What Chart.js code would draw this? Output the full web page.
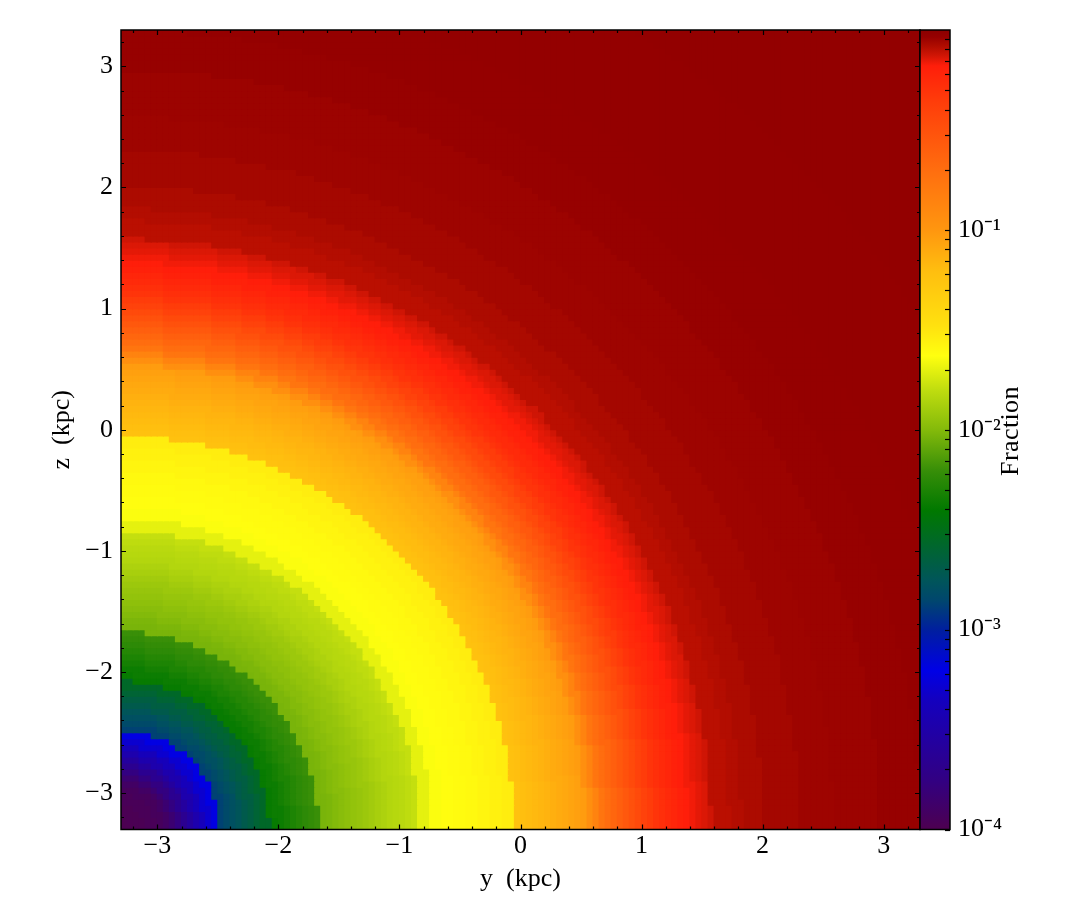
<!DOCTYPE html>
<html>
<head>
<meta charset="utf-8">
<style>
  html, body { margin: 0; background: #fff; }
  canvas { position: absolute; left: 0; top: 0; }
</style>
<script src="https://cdn.jsdelivr.net/npm/chart.js@4/dist/chart.umd.min.js"></script>
</head>
<body>
<canvas id="map" width="1085" height="920"></canvas>
<canvas id="bar" width="1085" height="920"></canvas>
<script>
// axis ticks
const majorTicks = [-3, -2, -1, 0, 1, 2, 3];
const minorTicks = [-3.2, -2.8, -2.6, -2.4, -2.2, -1.8, -1.6, -1.4, -1.2, -0.8, -0.6, -0.4, -0.2,
  0.2, 0.4, 0.6, 0.8, 1.2, 1.4, 1.6, 1.8, 2.2, 2.4, 2.6, 2.8, 3.2];
const axisMin = -3.3;
const axisMax = 3.3;
const cellSize = 0.05;

// colorbar ticks
const barDecades = [1e-4, 1e-3, 1e-2, 1e-1];
const barDecadeLabels = ['10⁻⁴', '10⁻³', '10⁻²', '10⁻¹'];
const barMinor = [2e-4, 3e-4, 4e-4, 5e-4, 6e-4, 7e-4, 8e-4, 9e-4,
  2e-3, 3e-3, 4e-3, 5e-3, 6e-3, 7e-3, 8e-3, 9e-3,
  2e-2, 3e-2, 4e-2, 5e-2, 6e-2, 7e-2, 8e-2, 9e-2,
  0.2, 0.3, 0.4, 0.5, 0.6, 0.7, 0.8, 0.9];

// colormap: log10(fraction) -> rgb
const stopLog = [-4, -3.755, -3.355, -3.205, -3.005, -2.855, -2.755, -2.405, -2.205, -2.005,
  -1.805, -1.63, -1.48, -1.205, -1, -0.705, -0.355, -0.18, -0.13, -0.08, -0.035, 0];
const stopRGB = [[77, 0, 80], [50, 0, 130], [20, 0, 190], [0, 0, 230], [0, 30, 160], [0, 70, 110],
  [0, 85, 90], [0, 120, 0], [55, 142, 8], [130, 185, 10], [190, 220, 15], [255, 255, 15],
  [255, 225, 15], [255, 190, 15], [255, 150, 15], [255, 110, 15], [255, 60, 10], [255, 30, 10],
  [210, 22, 5], [175, 12, 0], [150, 0, 0], [140, 0, 0]];

// the map is rings around the lower left corner: outer radius (kpc) and log10(fraction)
const ringOuter = [0.10, 0.20, 0.30, 0.36, 0.40, 0.45, 0.50, 0.55, 0.59, 0.64, 0.69, 0.75, 0.82,
  0.87, 0.92, 0.97, 1.01, 1.06, 1.11, 1.17, 1.23,
  1.28, 1.34, 1.39, 1.44, 1.49, 1.54, 1.59, 1.64,
  1.70, 1.75, 1.80, 1.86, 1.91, 1.96, 2.01, 2.06, 2.11, 2.16, 2.21, 2.27, 2.32, 2.37, 2.42, 2.47,
  2.57, 2.67, 2.76, 2.86, 2.96, 3.06, 3.16, 3.25,
  3.30, 3.35, 3.40, 3.45, 3.50, 3.55, 3.60, 3.65, 3.70, 3.75, 3.80, 3.84, 3.89, 3.94,
  3.99, 4.04, 4.09, 4.14, 4.19, 4.24, 4.29, 4.34, 4.39, 4.44, 4.49, 4.54, 4.59, 4.64, 4.69, 4.74, 4.79, 4.84, 4.88,
  5.03, 5.13, 5.31, 5.61, 5.89, 6.27, 6.60, 7.00, 7.84, 9.40];
const ringLog = [-3.99, -3.98, -3.96, -3.94, -3.90, -3.84, -3.76, -3.66, -3.57, -3.47, -3.38, -3.29, -3.22,
  -2.87, -2.83, -2.79, -2.75, -2.70, -2.66, -2.61, -2.56,
  -2.38, -2.36, -2.33, -2.30, -2.27, -2.24, -2.22, -2.20,
  -2.03, -2.02, -2.00, -1.98, -1.965, -1.95, -1.935, -1.92, -1.90, -1.88, -1.86, -1.84, -1.83, -1.82, -1.805, -1.79,
  -1.70, -1.64, -1.62, -1.61, -1.60, -1.58, -1.56, -1.54,
  -1.23, -1.21, -1.195, -1.18, -1.165, -1.15, -1.13, -1.11, -1.09, -1.07, -1.05, -1.03, -0.95, -0.86,
  -0.76, -0.70, -0.65, -0.60, -0.55, -0.50, -0.45, -0.40, -0.355, -0.31, -0.28, -0.25, -0.225, -0.20, -0.18, -0.165, -0.15, -0.14, -0.125,
  -0.095, -0.085, -0.075, -0.06, -0.05, -0.045, -0.037, -0.032, -0.028, -0.025];

const fontFamily = '"Liberation Serif", serif';
Chart.defaults.font.family = fontFamily;
Chart.defaults.color = '#000';

const colorForLog = (v) => {
  let i = 0;
  while (i < stopLog.length - 2 && v > stopLog[i + 1]) i++;
  const t = Math.min(1, Math.max(0, (v - stopLog[i]) / (stopLog[i + 1] - stopLog[i])));
  const c = stopRGB[i].map((a, k) => Math.round(a + (stopRGB[i + 1][k] - a) * t));
  return `rgb(${c[0]},${c[1]},${c[2]})`;
};

const ringLogAt = (r) => {
  const i = ringOuter.findIndex(o => r <= o);
  return ringLog[i < 0 ? ringLog.length - 1 : i];
};

// one square per grid cell
const cells = [];
const cellColors = [];
const cellCount = Math.round((axisMax - axisMin) / cellSize);
for (let j = 0; j < cellCount; j++) {
  for (let i = 0; i < cellCount; i++) {
    const dx = (i + 0.5) * cellSize;
    const dy = (j + 0.5) * cellSize;
    cells.push({ x: axisMin + dx, y: axisMin + dy });
    cellColors.push(colorForLog(ringLogAt(Math.hypot(dx, dy))));
  }
}

// inward ticks on all four sides plus the frame
const frameTicks = {
  id: 'frameTicks',
  afterDraw(chart) {
    const { ctx, chartArea: a, scales } = chart;
    ctx.save();
    ctx.strokeStyle = '#000';
    ctx.lineWidth = 1.2;
    const tick = (v, len) => {
      const px = Math.round(scales.x.getPixelForValue(v)) + 0.5;
      const py = Math.round(scales.y.getPixelForValue(v)) + 0.5;
      ctx.beginPath();
      ctx.moveTo(px, a.bottom); ctx.lineTo(px, a.bottom - len);
      ctx.moveTo(px, a.top); ctx.lineTo(px, a.top + len);
      ctx.moveTo(a.left, py); ctx.lineTo(a.left + len, py);
      ctx.moveTo(a.right, py); ctx.lineTo(a.right - len, py);
      ctx.stroke();
    };
    majorTicks.forEach(v => tick(v, 5));
    minorTicks.forEach(v => tick(v, 3));
    ctx.lineWidth = 1.5;
    ctx.strokeRect(a.left, a.top, a.right - a.left, a.bottom - a.top);
    ctx.restore();
  }
};

new Chart(document.getElementById('map'), {
  type: 'scatter',
  data: {
    datasets: [{
      data: cells,
      pointStyle: 'rect',
      pointRadius: 5.1,
      pointBorderWidth: 0,
      pointBackgroundColor: cellColors
    }]
  },
  plugins: [frameTicks],
  options: {
    responsive: false,
    animation: false,
    events: [],
    layout: { padding: { left: 47, top: 30, right: 165, bottom: 25 } },
    plugins: { legend: { display: false }, tooltip: { enabled: false } },
    scales: {
      x: {
        type: 'linear', min: axisMin, max: axisMax,
        afterBuildTicks: s => { s.ticks = majorTicks.map(v => ({ value: v })); },
        afterFit: s => { s.height = 65.5; },
        grid: { display: false, drawTicks: false },
        border: { display: false },
        title: { display: true, text: 'y  (kpc)', font: { size: 26 }, padding: 0 },
        ticks: {
          font: { size: 26 }, padding: 1, maxRotation: 0, autoSkip: false,
          callback: v => String(v).replace('-', '−')
        }
      },
      y: {
        type: 'linear', min: axisMin, max: axisMax,
        afterBuildTicks: s => { s.ticks = majorTicks.map(v => ({ value: v })); },
        afterFit: s => { s.width = 74; },
        grid: { display: false, drawTicks: false },
        border: { display: false },
        title: { display: true, text: 'z  (kpc)', font: { size: 26 }, padding: 0 },
        ticks: {
          font: { size: 26 }, padding: 8, autoSkip: false,
          callback: v => String(v).replace('-', '−')
        }
      }
    }
  }
});

// colorbar: one floating bar with the colormap as gradient
const barFill = (ctx) => {
  const { chart } = ctx;
  if (!chart.chartArea) return '#000';
  const y = chart.scales.y;
  const g = chart.ctx.createLinearGradient(0, y.top, 0, y.bottom);
  stopLog.forEach((v, i) => {
    const pos = (y.getPixelForValue(Math.pow(10, v)) - y.top) / (y.bottom - y.top);
    const c = stopRGB[i];
    g.addColorStop(Math.min(1, Math.max(0, pos)), `rgb(${c[0]},${c[1]},${c[2]})`);
  });
  return g;
};

const barFrame = {
  id: 'barFrame',
  afterDraw(chart) {
    const { ctx, chartArea: a, scales } = chart;
    ctx.save();
    ctx.strokeStyle = '#000';
    ctx.lineWidth = 1.2;
    [...barDecades, ...barMinor].forEach(v => {
      const py = Math.round(scales.y.getPixelForValue(v)) + 0.5;
      ctx.beginPath();
      ctx.moveTo(a.right, py); ctx.lineTo(a.right - 5, py);
      ctx.stroke();
    });
    ctx.lineWidth = 1.5;
    ctx.strokeRect(a.left, a.top, a.right - a.left, a.bottom - a.top);
    // title reads bottom to top, which a right hand axis title does not do
    ctx.translate(1011, 431);
    ctx.rotate(-Math.PI / 2);
    ctx.font = `26px ${fontFamily}`;
    ctx.letterSpacing = '0.4px';
    ctx.fillStyle = '#000';
    ctx.textAlign = 'center';
    ctx.textBaseline = 'middle';
    ctx.fillText('Fraction', 0, 0);
    ctx.restore();
  }
};

new Chart(document.getElementById('bar'), {
  type: 'bar',
  data: {
    labels: ['Fraction'],
    datasets: [{
      data: [[1e-4, 1]],
      backgroundColor: barFill,
      borderWidth: 0,
      barPercentage: 1,
      categoryPercentage: 1
    }]
  },
  plugins: [barFrame],
  options: {
    responsive: false,
    animation: false,
    events: [],
    layout: { padding: { left: 920, top: 30, right: 60, bottom: 90.5 } },
    plugins: { legend: { display: false }, tooltip: { enabled: false } },
    scales: {
      x: { display: false },
      y: {
        type: 'logarithmic', position: 'right', min: 1e-4, max: 1,
        afterBuildTicks: s => { s.ticks = barDecades.map(v => ({ value: v })); },
        afterFit: s => { s.width = 75; },
        grid: { display: false, drawTicks: false },
        border: { display: false },
        ticks: {
          font: { size: 26 }, padding: 8, autoSkip: false,
          callback: (v, i) => barDecadeLabels[i]
        }
      }
    }
  }
});
</script>
</body>
</html>
